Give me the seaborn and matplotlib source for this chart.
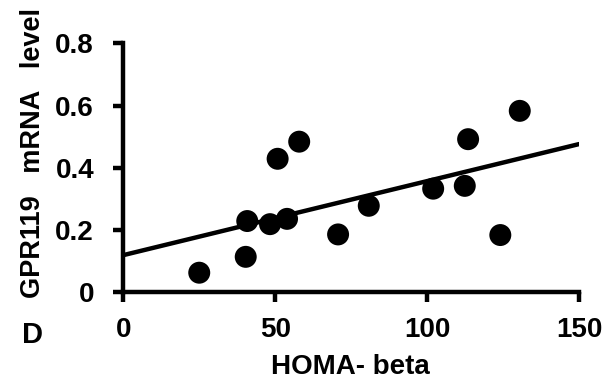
import matplotlib
matplotlib.use("Agg")
import matplotlib.pyplot as plt
import seaborn as sns
import pandas as pd

homa_beta = [25.0, 40.3, 40.8, 48.3, 53.9, 50.8, 57.9, 70.7, 80.8, 102.0, 112.4, 113.5, 124.1, 130.5]
gpr119 = [0.063, 0.114, 0.229, 0.219, 0.236, 0.429, 0.484, 0.186, 0.278, 0.333, 0.342, 0.492, 0.184, 0.583]
x_ticks = [0, 50, 100, 150]
y_ticks = [0, 0.2, 0.4, 0.6, 0.8]
y_tick_labels = ["0", "0.2", "0.4", "0.6", "0.8"]

df = pd.DataFrame({"HOMA- beta": homa_beta, "GPR119": gpr119})

sns.set_style("ticks")
plt.rcParams["font.family"] = ["Liberation Sans", "DejaVu Sans"]
plt.rcParams.update({"text.color": "black", "axes.labelcolor": "black",
                     "xtick.color": "black", "ytick.color": "black",
                     "axes.edgecolor": "black"})

fig = plt.figure(figsize=(6.14, 3.86), dpi=100)
ax = fig.add_axes([0.2008, 0.2427, 0.7422, 0.6451])
ax.set_xlim(0, 150)
ax.set_ylim(0, 0.8)

sns.regplot(data=df, x="HOMA- beta", y="GPR119", ax=ax, ci=None, truncate=False,
            scatter_kws=dict(s=250, color="black", edgecolor="none", alpha=1, clip_on=False, zorder=3),
            line_kws=dict(color="black", lw=3.2, zorder=2))

ax.set_xlim(0, 150)
ax.set_ylim(0, 0.8)
ax.set_xticks(x_ticks)
ax.set_yticks(y_ticks)
ax.set_yticklabels(y_tick_labels)
sns.despine(ax=ax)
for s in ["left", "bottom"]:
    ax.spines[s].set_linewidth(3.2)
    ax.spines[s].set_color("black")
ax.tick_params(axis="both", direction="out", length=7, width=3.2, labelsize=20,
               colors="black")
ax.tick_params(axis="y", pad=14)
ax.tick_params(axis="x", pad=11)
for lab in ax.get_xticklabels() + ax.get_yticklabels():
    lab.set_fontweight("bold")

ax.set_xlabel("HOMA- beta", fontsize=20, fontweight="bold", labelpad=0)
ax.set_ylabel("GPR119   mRNA   level", fontsize=19.5, fontweight="bold")
ax.yaxis.label.set_verticalalignment("center")
ax.xaxis.label.set_verticalalignment("center")
ax.yaxis.set_label_coords(-0.199, 0.561)
ax.xaxis.set_label_coords(0.4975, -0.30)

fig.text(32.5 / 614, 1 - 335 / 386, "D", fontsize=21, fontweight="bold", ha="center", va="center")

fig.savefig("out.png", dpi=100)
